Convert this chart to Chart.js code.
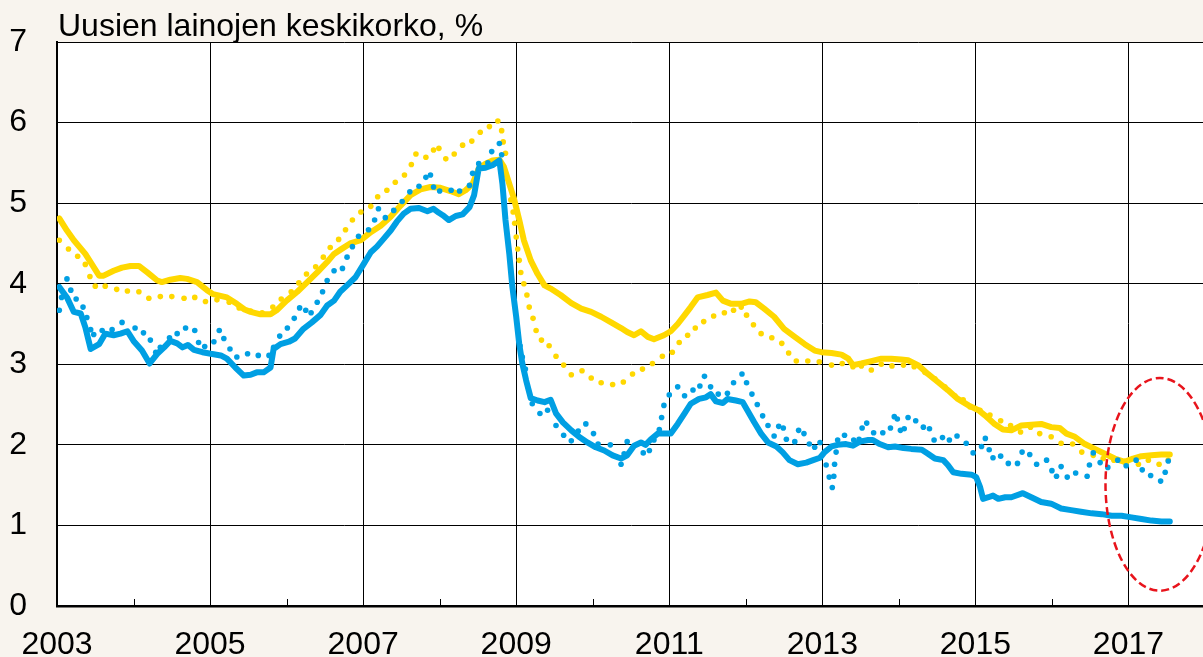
<!DOCTYPE html>
<html>
<head>
<meta charset="utf-8">
<script src="https://cdn.jsdelivr.net/npm/chart.js@4.4.1/dist/chart.umd.min.js"></script>
<style>
    html, body { margin: 0; padding: 0; background: #f8f4ee; overflow: hidden; }
    canvas { display: block; }
</style>
</head>
<body>
<canvas id="chart" width="1209" height="657"></canvas>
<script>
const TITLE = "Uusien lainojen keskikorko, %";

const X_MIN = 2003;
const X_MAX = 2018;
const Y_TICKS = [0, 1, 2, 3, 4, 5, 6, 7];

// yellow, solid
const yellowSolidYear = [
    2003.03, 2003.13, 2003.22, 2003.37, 2003.55, 2003.61, 2003.74, 2003.85, 2003.96, 2004.07,
    2004.18, 2004.31, 2004.37, 2004.48, 2004.61, 2004.70, 2004.83, 2004.96, 2005.04, 2005.22,
    2005.35, 2005.45, 2005.53, 2005.66, 2005.79, 2005.87, 2006.00, 2006.14, 2006.27, 2006.40,
    2006.53, 2006.62, 2006.70, 2006.83, 2006.97, 2007.10, 2007.23, 2007.36, 2007.49, 2007.62,
    2007.75, 2007.88, 2008.01, 2008.14, 2008.25, 2008.34, 2008.43, 2008.51, 2008.60, 2008.69,
    2008.78, 2008.84, 2008.91, 2008.97, 2009.04, 2009.10, 2009.19, 2009.28, 2009.37, 2009.45,
    2009.58, 2009.72, 2009.85, 2009.98, 2010.11, 2010.24, 2010.37, 2010.45, 2010.54, 2010.63,
    2010.72, 2010.80, 2010.93, 2011.02, 2011.11, 2011.20, 2011.28, 2011.37, 2011.50, 2011.61,
    2011.70, 2011.81, 2011.94, 2012.05, 2012.13, 2012.24, 2012.37, 2012.50, 2012.64, 2012.77,
    2012.90, 2012.99, 2013.12, 2013.25, 2013.34, 2013.40, 2013.51, 2013.64, 2013.77, 2013.90,
    2014.03, 2014.12, 2014.25, 2014.38, 2014.51, 2014.64, 2014.77, 2014.91, 2015.04, 2015.12,
    2015.25, 2015.36, 2015.47, 2015.60, 2015.73, 2015.86, 2015.99, 2016.10, 2016.19, 2016.30,
    2016.43, 2016.56, 2016.69, 2016.82, 2016.95, 2017.06, 2017.17, 2017.30, 2017.43, 2017.54,
];
const yellowSolidRate = [
    4.81, 4.66, 4.54, 4.37, 4.10, 4.10, 4.16, 4.20, 4.22, 4.22,
    4.14, 4.04, 4.02, 4.05, 4.07, 4.06, 4.02, 3.92, 3.87, 3.83,
    3.75, 3.68, 3.65, 3.62, 3.62, 3.67, 3.79, 3.90, 4.02, 4.14,
    4.27, 4.37, 4.42, 4.50, 4.54, 4.64, 4.72, 4.83, 4.97, 5.10,
    5.17, 5.20, 5.19, 5.15, 5.11, 5.16, 5.24, 5.43, 5.49, 5.53,
    5.54, 5.45, 5.24, 5.06, 4.79, 4.54, 4.29, 4.12, 3.98, 3.94,
    3.86, 3.76, 3.69, 3.65, 3.59, 3.52, 3.45, 3.40, 3.36, 3.41,
    3.34, 3.31, 3.36, 3.41, 3.50, 3.61, 3.71, 3.83, 3.86, 3.89,
    3.79, 3.75, 3.75, 3.78, 3.77, 3.69, 3.59, 3.44, 3.34, 3.25,
    3.17, 3.15, 3.14, 3.12, 3.07, 2.99, 3.01, 3.04, 3.07, 3.07,
    3.06, 3.05, 2.99, 2.88, 2.78, 2.68, 2.57, 2.49, 2.43, 2.37,
    2.26, 2.19, 2.18, 2.24, 2.25, 2.26, 2.22, 2.21, 2.14, 2.10,
    2.01, 1.95, 1.89, 1.83, 1.79, 1.83, 1.86, 1.87, 1.88, 1.88,
];

// yellow, dotted
const yellowDotYear = [
    2003.03, 2003.15, 2003.27, 2003.37, 2003.43, 2003.50, 2003.63, 2003.78, 2003.92, 2004.07,
    2004.20, 2004.35, 2004.50, 2004.66, 2004.80, 2004.94, 2005.09, 2005.25, 2005.38, 2005.53,
    2005.68, 2005.82, 2005.93, 2006.06, 2006.16, 2006.26, 2006.38, 2006.48, 2006.57, 2006.68,
    2006.77, 2006.86, 2006.97, 2007.10, 2007.19, 2007.31, 2007.42, 2007.54, 2007.63, 2007.69,
    2007.82, 2007.92, 2007.99, 2008.08, 2008.19, 2008.30, 2008.42, 2008.53, 2008.65, 2008.76,
    2008.81, 2008.83, 2008.86, 2008.93, 2008.96, 2008.98, 2009.00, 2009.02, 2009.04, 2009.06,
    2009.10, 2009.14, 2009.17, 2009.22, 2009.26, 2009.33, 2009.43, 2009.52, 2009.62, 2009.72,
    2009.86, 2009.98, 2010.11, 2010.26, 2010.40, 2010.52, 2010.65, 2010.78, 2010.91, 2011.04,
    2011.13, 2011.24, 2011.34, 2011.45, 2011.58, 2011.72, 2011.84, 2011.94, 2012.01, 2012.10,
    2012.20, 2012.34, 2012.47, 2012.56, 2012.66, 2012.81, 2012.96, 2013.12, 2013.26, 2013.40,
    2013.51, 2013.64, 2013.77, 2013.91, 2014.06, 2014.20, 2014.34, 2014.47, 2014.60, 2014.73,
    2014.84, 2014.93, 2015.06, 2015.19, 2015.33, 2015.46, 2015.59, 2015.72, 2015.84, 2015.99,
    2016.12, 2016.27, 2016.39, 2016.54, 2016.67, 2016.81, 2016.97, 2017.13, 2017.26, 2017.40,
    2017.52,
];
const yellowDotRate = [
    4.54, 4.43, 4.34, 4.24, 4.09, 3.97, 3.97, 3.93, 3.91, 3.90,
    3.82, 3.84, 3.84, 3.82, 3.83, 3.78, 3.80, 3.77, 3.70, 3.66,
    3.64, 3.71, 3.81, 3.90, 4.01, 4.12, 4.21, 4.33, 4.45, 4.55,
    4.67, 4.79, 4.89, 4.96, 5.08, 5.16, 5.26, 5.35, 5.48, 5.61,
    5.57, 5.66, 5.68, 5.55, 5.61, 5.72, 5.77, 5.88, 5.95, 6.02,
    5.90, 5.76, 5.62, 5.04, 4.89, 4.75, 4.58, 4.43, 4.29, 4.14,
    4.00, 3.86, 3.71, 3.57, 3.42, 3.30, 3.23, 3.10, 2.99, 2.87,
    2.92, 2.83, 2.77, 2.75, 2.78, 2.88, 2.94, 3.01, 3.10, 3.15,
    3.27, 3.36, 3.45, 3.53, 3.60, 3.64, 3.67, 3.71, 3.61, 3.49,
    3.38, 3.33, 3.26, 3.14, 3.04, 3.04, 3.03, 2.99, 3.01, 2.97,
    2.98, 2.93, 3.00, 2.98, 2.99, 2.97, 2.90, 2.82, 2.72, 2.61,
    2.56, 2.47, 2.43, 2.37, 2.30, 2.24, 2.16, 2.22, 2.14, 2.10,
    2.02, 2.01, 1.91, 1.87, 1.83, 1.81, 1.77, 1.76, 1.81, 1.76,
    1.81,
];

// blue, solid
const blueSolidYear = [
    2003.03, 2003.13, 2003.22, 2003.31, 2003.37, 2003.44, 2003.55, 2003.63, 2003.74, 2003.83,
    2003.92, 2004.00, 2004.11, 2004.21, 2004.31, 2004.40, 2004.48, 2004.57, 2004.64, 2004.71,
    2004.79, 2004.90, 2005.01, 2005.14, 2005.22, 2005.33, 2005.44, 2005.53, 2005.61, 2005.70,
    2005.79, 2005.83, 2005.92, 2006.03, 2006.11, 2006.22, 2006.33, 2006.44, 2006.53, 2006.62,
    2006.70, 2006.79, 2006.90, 2007.01, 2007.10, 2007.18, 2007.27, 2007.36, 2007.44, 2007.53,
    2007.62, 2007.73, 2007.84, 2007.92, 2007.99, 2008.04, 2008.12, 2008.21, 2008.30, 2008.39,
    2008.45, 2008.51, 2008.60, 2008.69, 2008.78, 2008.82, 2008.86, 2008.91, 2008.95, 2009.00,
    2009.04, 2009.08, 2009.13, 2009.19, 2009.28, 2009.37, 2009.45, 2009.52, 2009.61, 2009.72,
    2009.82, 2009.93, 2010.04, 2010.15, 2010.26, 2010.37, 2010.45, 2010.54, 2010.63, 2010.69,
    2010.76, 2010.85, 2010.93, 2011.02, 2011.11, 2011.20, 2011.28, 2011.39, 2011.48, 2011.54,
    2011.61, 2011.70, 2011.76, 2011.87, 2011.96, 2012.02, 2012.11, 2012.20, 2012.29, 2012.40,
    2012.48, 2012.57, 2012.68, 2012.79, 2012.88, 2012.97, 2013.03, 2013.12, 2013.20, 2013.31,
    2013.40, 2013.49, 2013.60, 2013.66, 2013.75, 2013.86, 2013.95, 2014.06, 2014.16, 2014.30,
    2014.38, 2014.47, 2014.58, 2014.64, 2014.71, 2014.82, 2014.95, 2015.01, 2015.06, 2015.10,
    2015.17, 2015.23, 2015.30, 2015.39, 2015.47, 2015.62, 2015.73, 2015.86, 2015.99, 2016.12,
    2016.25, 2016.38, 2016.52, 2016.65, 2016.78, 2016.91, 2017.04, 2017.17, 2017.30, 2017.43,
    2017.54,
];
const blueSolidRate = [
    3.96, 3.83, 3.65, 3.63, 3.46, 3.19, 3.25, 3.38, 3.36, 3.38,
    3.41, 3.29, 3.17, 3.01, 3.13, 3.21, 3.29, 3.26, 3.21, 3.24,
    3.18, 3.15, 3.13, 3.11, 3.07, 2.96, 2.86, 2.87, 2.90, 2.90,
    2.96, 3.19, 3.25, 3.28, 3.32, 3.44, 3.52, 3.61, 3.73, 3.79,
    3.90, 3.98, 4.08, 4.25, 4.39, 4.46, 4.56, 4.66, 4.77, 4.87,
    4.93, 4.94, 4.90, 4.93, 4.88, 4.85, 4.79, 4.84, 4.86, 4.95,
    5.10, 5.43, 5.44, 5.47, 5.53, 5.24, 4.79, 4.37, 3.96, 3.59,
    3.25, 3.01, 2.80, 2.58, 2.55, 2.53, 2.56, 2.39, 2.28, 2.18,
    2.10, 2.03, 1.97, 1.93, 1.87, 1.83, 1.87, 1.99, 2.03, 2.00,
    2.07, 2.14, 2.14, 2.14, 2.26, 2.39, 2.51, 2.57, 2.59, 2.63,
    2.54, 2.52, 2.57, 2.55, 2.53, 2.43, 2.28, 2.14, 2.03, 1.98,
    1.91, 1.81, 1.76, 1.78, 1.81, 1.84, 1.91, 1.98, 2.00, 2.01,
    1.99, 2.04, 2.06, 2.06, 2.01, 1.97, 1.98, 1.96, 1.95, 1.94,
    1.89, 1.83, 1.81, 1.75, 1.66, 1.64, 1.63, 1.60, 1.48, 1.33,
    1.35, 1.37, 1.33, 1.35, 1.35, 1.40, 1.35, 1.29, 1.27, 1.21,
    1.19, 1.17, 1.15, 1.14, 1.12, 1.12, 1.10, 1.08, 1.06, 1.05,
    1.05,
];

// blue, dotted
const blueDotYear = [
    2003.03, 2003.06, 2003.13, 2003.18, 2003.25, 2003.34, 2003.39, 2003.44, 2003.48, 2003.59,
    2003.72, 2003.85, 2004.02, 2004.13, 2004.22, 2004.29, 2004.35, 2004.47, 2004.57, 2004.68,
    2004.80, 2004.85, 2004.93, 2005.05, 2005.12, 2005.18, 2005.26, 2005.35, 2005.49, 2005.63,
    2005.77, 2005.83, 2005.91, 2006.01, 2006.10, 2006.17, 2006.25, 2006.32, 2006.40, 2006.47,
    2006.53, 2006.62, 2006.73, 2006.79, 2006.86, 2006.94, 2007.07, 2007.15, 2007.20, 2007.29,
    2007.40, 2007.51, 2007.61, 2007.73, 2007.82, 2007.88, 2007.92, 2008.00, 2008.15, 2008.26,
    2008.39, 2008.43, 2008.51, 2008.63, 2008.68, 2008.78, 2008.81, 2009.05, 2009.08, 2009.12,
    2009.21, 2009.31, 2009.41, 2009.52, 2009.62, 2009.72, 2009.81, 2009.91, 2010.01, 2010.07,
    2010.23, 2010.37, 2010.41, 2010.45, 2010.66, 2010.74, 2010.80, 2010.87, 2010.90, 2010.93,
    2011.00, 2011.11, 2011.20, 2011.31, 2011.40, 2011.46, 2011.54, 2011.64, 2011.76, 2011.84,
    2011.95, 2012.01, 2012.08, 2012.15, 2012.22, 2012.29, 2012.37, 2012.43, 2012.49, 2012.53,
    2012.64, 2012.69, 2012.76, 2012.83, 2012.90, 2012.97, 2013.05, 2013.09, 2013.13, 2013.15,
    2013.16, 2013.18, 2013.20, 2013.29, 2013.41, 2013.48, 2013.52, 2013.58, 2013.67, 2013.79,
    2013.89, 2013.94, 2013.98, 2014.02, 2014.07, 2014.12, 2014.22, 2014.32, 2014.40, 2014.46,
    2014.57, 2014.66, 2014.76, 2014.88, 2014.97, 2015.08, 2015.13, 2015.18, 2015.23, 2015.33,
    2015.43, 2015.55, 2015.61, 2015.71, 2015.80, 2015.93, 2016.00, 2016.06, 2016.12, 2016.20,
    2016.31, 2016.46, 2016.49, 2016.54, 2016.63, 2016.73, 2016.86, 2016.97, 2017.10, 2017.18,
    2017.29, 2017.42, 2017.48, 2017.52,
];
const blueDotRate = [
    3.67, 3.83, 4.06, 3.92, 3.81, 3.71, 3.58, 3.43, 3.37, 3.42,
    3.43, 3.52, 3.45, 3.39, 3.30, 3.15, 3.21, 3.33, 3.38, 3.45,
    3.42, 3.27, 3.22, 3.28, 3.42, 3.32, 3.19, 3.09, 3.13, 3.11,
    3.11, 3.21, 3.35, 3.45, 3.57, 3.70, 3.67, 3.64, 3.77, 3.90,
    4.04, 4.16, 4.19, 4.33, 4.46, 4.59, 4.67, 4.79, 4.93, 4.82,
    4.91, 5.02, 5.14, 5.21, 5.32, 5.35, 5.20, 5.15, 5.16, 5.15,
    5.22, 5.37, 5.49, 5.50, 5.64, 5.74, 5.60, 3.23, 3.09, 2.94,
    2.51, 2.39, 2.43, 2.24, 2.12, 2.05, 2.17, 2.26, 2.14, 2.01,
    2.00, 1.76, 1.89, 2.04, 1.90, 1.93, 2.06, 2.19, 2.34, 2.49,
    2.62, 2.72, 2.61, 2.68, 2.73, 2.85, 2.72, 2.63, 2.64, 2.77,
    2.88, 2.77, 2.63, 2.50, 2.36, 2.24, 2.11, 2.23, 2.21, 2.07,
    2.04, 2.18, 2.14, 2.01, 1.97, 2.03, 1.75, 1.60, 1.47, 1.61,
    1.76, 1.91, 2.06, 2.12, 2.06, 2.07, 2.21, 2.27, 2.15, 2.15,
    2.21, 2.35, 2.32, 2.18, 2.20, 2.34, 2.30, 2.22, 2.20, 2.06,
    2.09, 2.06, 2.11, 2.02, 1.90, 1.98, 2.08, 1.94, 1.84, 1.86,
    1.77, 1.77, 1.91, 1.88, 1.76, 1.81, 1.68, 1.61, 1.73, 1.60,
    1.65, 1.61, 1.75, 1.90, 1.78, 1.72, 1.81, 1.74, 1.81, 1.69,
    1.62, 1.55, 1.66, 1.80,
];

const YELLOW = "#ffd800";
const BLUE = "#009fe3";
const FONT = "'Liberation Sans', Arial, sans-serif";
const FONT_SIZE = 32;

// red dashed ring, in data units
const HIGHLIGHT = { x: 2017.41, y: 1.51, rx: 0.71, ry: 1.32 };

function points(xs, ys) {
    return xs.map((x, i) => ({ x, y: ys[i] }));
}

function solid(data, color) {
    return {
        data,
        borderColor: color,
        borderWidth: 6,
        borderJoinStyle: "round",
        borderCapStyle: "round",
        pointRadius: 0,
        tension: 0,
        fill: false,
    };
}

function dotted(data, color) {
    return {
        data,
        showLine: false,
        pointRadius: 2.8,
        pointBorderWidth: 0,
        pointBackgroundColor: color,
        pointBorderColor: color,
    };
}

const decorations = {
    id: "decorations",
    beforeDraw(chart) {
        const { ctx, chartArea: a } = chart;
        ctx.save();
        ctx.fillStyle = "#ffffff";
        ctx.fillRect(a.left, a.top, a.right - a.left, a.bottom - a.top);
        ctx.restore();
    },
    afterDatasetsDraw(chart) {
        const { ctx, chartArea: a, scales } = chart;
        const xs = scales.x;
        const ys = scales.y;
        ctx.save();

        // short inner ticks on even years
        ctx.strokeStyle = "#000";
        ctx.lineWidth = 1;
        for (let yr = X_MIN + 1; yr < X_MAX; yr += 2) {
            const px = Math.round(xs.getPixelForValue(yr)) + 0.5;
            ctx.beginPath();
            ctx.moveTo(px, a.bottom);
            ctx.lineTo(px, a.bottom - 7);
            ctx.stroke();
        }

        // title
        ctx.fillStyle = "#000";
        ctx.font = `${FONT_SIZE}px ${FONT}`;
        ctx.textBaseline = "alphabetic";
        ctx.fillText(TITLE, a.left + 1, a.top - 6);

        // dashed ring
        const cx = xs.getPixelForValue(HIGHLIGHT.x);
        const cy = ys.getPixelForValue(HIGHLIGHT.y);
        const rx = xs.getPixelForValue(HIGHLIGHT.x + HIGHLIGHT.rx) - cx;
        const ry = cy - ys.getPixelForValue(HIGHLIGHT.y + HIGHLIGHT.ry);
        ctx.strokeStyle = "#e8141c";
        ctx.lineWidth = 2.5;
        ctx.setLineDash([8, 4]);
        ctx.beginPath();
        ctx.ellipse(cx, cy, rx, ry, 0, 0, Math.PI * 2);
        ctx.stroke();
        ctx.restore();
    },
};

Chart.defaults.font.family = FONT;
Chart.defaults.color = "#000";

new Chart(document.getElementById("chart"), {
    type: "line",
    data: {
        datasets: [
            solid(points(blueSolidYear, blueSolidRate), BLUE),
            dotted(points(blueDotYear, blueDotRate), BLUE),
            solid(points(yellowSolidYear, yellowSolidRate), YELLOW),
            dotted(points(yellowDotYear, yellowDotRate), YELLOW),
        ],
    },
    options: {
        responsive: false,
        animation: false,
        devicePixelRatio: 1,
        layout: { padding: { left: 10, right: 0, top: 42, bottom: 0 } },
        plugins: {
            legend: { display: false },
            tooltip: { enabled: false },
        },
        scales: {
            x: {
                type: "linear",
                min: X_MIN,
                max: X_MAX,
                afterFit: (axis) => {
                    axis.height = 51;
                    axis.paddingLeft = 0;
                    axis.paddingRight = 0;
                },
                ticks: {
                    stepSize: 1,
                    autoSkip: false,
                    maxRotation: 0,
                    padding: 20,
                    font: { size: FONT_SIZE },
                    callback: (v) => (v % 2 === 1 ? String(v) : ""),
                },
                grid: {
                    drawTicks: false,
                    lineWidth: 1,
                    color: (c) => (c.tick && c.tick.value % 2 === 1 ? "#000" : "rgba(0,0,0,0)"),
                },
                border: { display: true, color: "#000", width: 2.5 },
            },
            y: {
                min: Y_TICKS[0],
                max: Y_TICKS[Y_TICKS.length - 1],
                afterBuildTicks: (axis) => {
                    axis.ticks = Y_TICKS.map((v) => ({ value: v }));
                },
                afterFit: (axis) => {
                    axis.width = 47;
                    axis.paddingTop = 0;
                    axis.paddingBottom = 0;
                },
                ticks: {
                    padding: 30,
                    font: { size: FONT_SIZE },
                },
                grid: { drawTicks: false, color: "#000", lineWidth: 1 },
                border: { display: true, color: "#000", width: 2 },
            },
        },
    },
    plugins: [decorations],
});
</script>
</body>
</html>
